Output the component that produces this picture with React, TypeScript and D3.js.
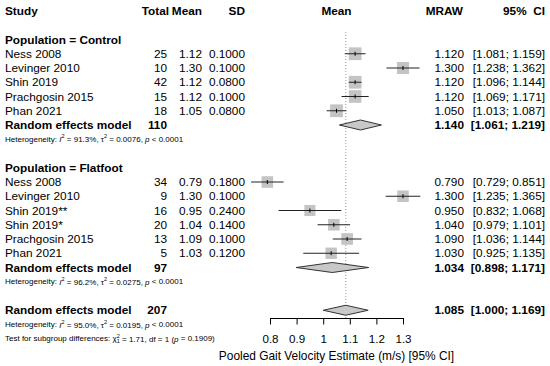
import { useEffect, useRef } from "react";
import * as d3 from "d3";

// subgroup: Population = Control
const controlStudies = ["Ness 2008", "Levinger 2010", "Shin 2019", "Prachgosin 2015", "Phan 2021"];
const controlTotal = [25, 10, 42, 15, 18];
const controlMean = [1.12, 1.3, 1.12, 1.12, 1.05];
const controlSD = [0.1, 0.1, 0.08, 0.1, 0.08];
const controlLower = [1.081, 1.238, 1.096, 1.069, 1.013];
const controlUpper = [1.159, 1.362, 1.144, 1.171, 1.087];
const controlWeight = [20.5, 18.5, 20.5, 20, 20.5];

// subgroup: Population = Flatfoot
const flatStudies = ["Ness 2008", "Levinger 2010", "Shin 2019**", "Shin 2019*", "Prachgosin 2015", "Phan 2021"];
const flatTotal = [34, 9, 16, 20, 13, 5];
const flatMean = [0.79, 1.3, 0.95, 1.04, 1.09, 1.03];
const flatSD = [0.18, 0.1, 0.24, 0.14, 0.1, 0.12];
const flatLower = [0.729, 1.235, 0.832, 0.979, 1.036, 0.925];
const flatUpper = [0.851, 1.365, 1.068, 1.101, 1.144, 1.135];
const flatWeight = [16.8, 16.8, 15.5, 16.8, 17, 16.3];

// random effects models: control, flatfoot, overall
const poolTotal = [110, 97, 207];
const poolEst = [1.14, 1.034, 1.085];
const poolLower = [1.061, 0.898, 1.0];
const poolUpper = [1.219, 1.171, 1.169];
const hetI2 = ["91.3%", "96.2%", "95.0%"];
const hetTau2 = ["0.0076", "0.0275", "0.0195"];

const xTicks = [0.8, 0.9, 1, 1.1, 1.2, 1.3];

const FONT = "'Liberation Sans', Arial, Helvetica, sans-serif";
const FS = 11.8;
const SMALL = 8;

function App() {
  const axisRef = useRef<SVGGElement>(null);

  const x = d3.scaleLinear().domain([0.8, 1.3]).range([270, 403]);
  const y = (row: number) => 11 + row * 14.25;
  const boxSize = d3.scaleSqrt().domain([0, 20]).range([0, 12.6]);

  const axisY = 318;

  useEffect(() => {
    const g = d3.select(axisRef.current);
    g.selectAll("*").remove();
    g.call(
      d3
        .axisBottom(x)
        .tickValues(xTicks)
        .tickFormat(d3.format("~g") as any)
        .tickSize(6.5)
        .tickSizeOuter(0)
        .tickPadding(10)
    );
    g.select(".domain").attr("stroke", "#000");
    g.selectAll(".tick line").attr("stroke", "#000");
    g.selectAll(".tick text")
      .attr("font-family", FONT)
      .attr("font-size", 11.6)
      .attr("fill", "#000");
  }, []);

  const studyRows = (
    names: string[],
    totals: number[],
    means: number[],
    sds: number[],
    lo: number[],
    hi: number[],
    w: number[],
    startRow: number
  ) =>
    names.map((name, i) => {
      const cy = y(startRow + i);
      const s = boxSize(w[i]);
      return (
        <g key={name + i}>
          <text x={5} y={cy} dominantBaseline="central">{name}</text>
          <text x={167} y={cy} textAnchor="end" dominantBaseline="central">{totals[i]}</text>
          <text x={202} y={cy} textAnchor="end" dominantBaseline="central">{means[i].toFixed(2)}</text>
          <text x={245} y={cy} textAnchor="end" dominantBaseline="central">{sds[i].toFixed(4)}</text>
          <rect x={x(means[i]) - s / 2} y={cy - s / 2} width={s} height={s} fill="#c4c4c4" />
          <line x1={x(lo[i])} x2={x(hi[i])} y1={cy} y2={cy} stroke="#222" strokeWidth={1} />
          <line x1={x(means[i])} x2={x(means[i])} y1={cy - 2} y2={cy + 2} stroke="#000" strokeWidth={1} />
          <text x={464} y={cy} textAnchor="end" dominantBaseline="central">{means[i].toFixed(3)}</text>
          <text x={545} y={cy} textAnchor="end" dominantBaseline="central">
            [{lo[i].toFixed(3)}; {hi[i].toFixed(3)}]
          </text>
        </g>
      );
    });

  const pooledRow = (k: number, row: number) => {
    const cy = y(row);
    const h = 5;
    const pts = [
      [x(poolLower[k]), cy],
      [x(poolEst[k]), cy - h],
      [x(poolUpper[k]), cy],
      [x(poolEst[k]), cy + h],
    ];
    return (
      <g>
        <text x={5} y={cy} dominantBaseline="central" fontWeight="bold">Random effects model</text>
        <text x={167} y={cy} textAnchor="end" dominantBaseline="central" fontWeight="bold">{poolTotal[k]}</text>
        <polygon points={pts.map((p) => p.join(",")).join(" ")} fill="#c8c8c8" stroke="#333" strokeWidth={1} />
        <text x={464} y={cy} textAnchor="end" dominantBaseline="central" fontWeight="bold">{poolEst[k].toFixed(3)}</text>
        <text x={545} y={cy} textAnchor="end" dominantBaseline="central" fontWeight="bold">
          [{poolLower[k].toFixed(3)}; {poolUpper[k].toFixed(3)}]
        </text>
      </g>
    );
  };

  const hetRow = (k: number, row: number) => (
    <text x={5} y={y(row)} dominantBaseline="central" fontSize={SMALL}>
      Heterogeneity: <tspan fontStyle="italic">I</tspan>
      <tspan dy={-3} fontSize={5.5}>2</tspan>
      <tspan dy={3}> = {hetI2[k]}, τ</tspan>
      <tspan dy={-3} fontSize={5.5}>2</tspan>
      <tspan dy={3}> = {hetTau2[k]}, </tspan>
      <tspan fontStyle="italic">p</tspan> &lt; 0.0001
    </text>
  );

  return (
    <svg
      width={550}
      height={366}
      style={{ position: "absolute", left: 0, top: 0, background: "#fff" }}
      fontFamily={FONT}
      fontSize={FS}
      fill="#000"
    >
      {/* headers */}
      <g fontWeight="bold">
        <text x={5} y={y(0)} dominantBaseline="central">Study</text>
        <text x={169} y={y(0)} textAnchor="end" dominantBaseline="central">Total</text>
        <text x={202} y={y(0)} textAnchor="end" dominantBaseline="central">Mean</text>
        <text x={245} y={y(0)} textAnchor="end" dominantBaseline="central">SD</text>
        <text x={(x(0.8) + x(1.3)) / 2} y={y(0)} textAnchor="middle" dominantBaseline="central">Mean</text>
        <text x={463} y={y(0)} textAnchor="end" dominantBaseline="central">MRAW</text>
        <text x={545} y={y(0)} textAnchor="end" dominantBaseline="central" style={{ whiteSpace: "pre" }}>95%  CI</text>
        <text x={5} y={y(2)} dominantBaseline="central">Population = Control</text>
        <text x={5} y={y(11)} dominantBaseline="central">Population = Flatfoot</text>
      </g>

      {/* overall reference line */}
      <line
        x1={x(poolEst[2])}
        x2={x(poolEst[2])}
        y1={32}
        y2={axisY}
        stroke="#999"
        strokeWidth={1}
        strokeDasharray="1,2"
      />

      {studyRows(controlStudies, controlTotal, controlMean, controlSD, controlLower, controlUpper, controlWeight, 3)}
      {pooledRow(0, 8)}
      {hetRow(0, 9)}

      {studyRows(flatStudies, flatTotal, flatMean, flatSD, flatLower, flatUpper, flatWeight, 12)}
      {pooledRow(1, 18)}
      {hetRow(1, 19)}

      {pooledRow(2, 21)}
      {hetRow(2, 22)}
      <text x={5} y={y(23)} dominantBaseline="central" fontSize={SMALL}>
        Test for subgroup differences: χ
        <tspan dy={-3} fontSize={5.5}>2</tspan>
        <tspan dx={-3} dy={5} fontSize={5.5}>1</tspan>
        <tspan dy={-2}> = 1.71, df = 1 (</tspan>
        <tspan fontStyle="italic">p</tspan> = 0.1909)
      </text>

      <g ref={axisRef} transform={`translate(0,${axisY})`} />
      <text x={(x(0.8) + x(1.3)) / 2} y={356} textAnchor="middle" dominantBaseline="central" fontSize={11.9}>
        Pooled Gait Velocity Estimate (m/s) [95% CI]
      </text>
    </svg>
  );
}

export default App;
